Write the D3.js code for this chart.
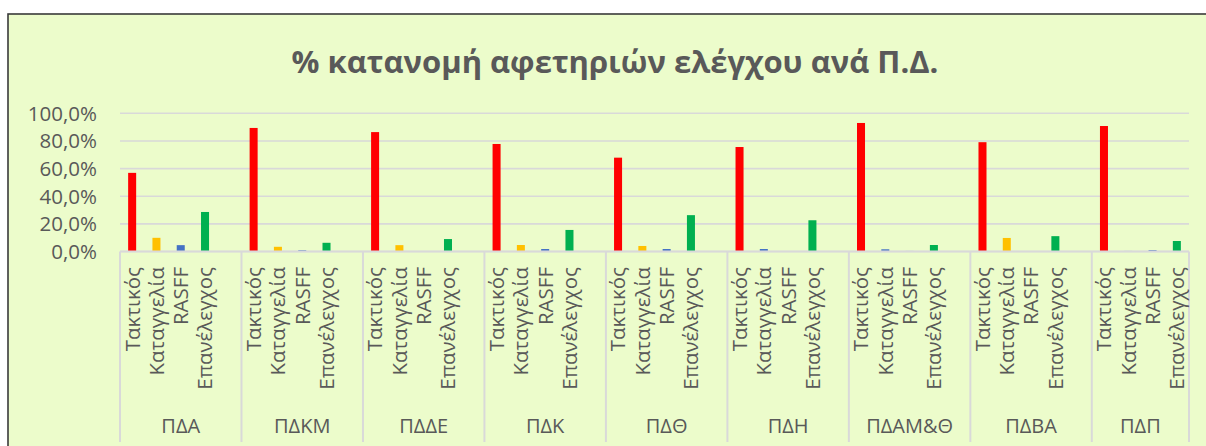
<!DOCTYPE html>
<html>
<head>
<meta charset="utf-8">
<script src="https://cdn.jsdelivr.net/npm/d3@7"></script>
<style>
  html, body { margin: 0; padding: 0; background: #ffffff; }
  svg { display: block; }
  text { font-family: "Open Sans", "Noto Sans", sans-serif; fill: #595959; }
</style>
</head>
<body>
<svg id="chart" width="1206" height="446"></svg>
<script>
// ---- data ----
const groups = ["ΠΔΑ", "ΠΔΚΜ", "ΠΔΔΕ", "ΠΔΚ", "ΠΔΘ", "ΠΔΗ", "ΠΔΑΜ&Θ", "ΠΔΒΑ", "ΠΔΠ"];
const categories = ["Τακτικός", "Καταγγελία", "RASFF", "Επανέλεγχος"];
const taktikos    = [56.9, 89.4, 86.4, 77.8, 67.9, 75.6, 93.0, 79.1, 90.8];
const kataggelia  = [9.9,  3.4,  4.6,  4.7,  4.0,  1.8,  1.6,  9.8,  0.4];
const rasff       = [4.6,  0.9,  0.0,  1.8,  1.8,  0.0,  0.4,  0.0,  1.0];
const epanelegxos = [28.6, 6.3,  9.0,  15.6, 26.3, 22.6, 4.7,  11.1, 7.6];
const yTicks = [0, 20, 40, 60, 80, 100];
const yTickLabels = ["0,0%", "20,0%", "40,0%", "60,0%", "80,0%", "100,0%"];

const seriesByCat = [taktikos, kataggelia, rasff, epanelegxos];

// ---- layout / style ----
const W = 1206, H = 446;
const plot = { left: 120, right: 1189, top: 113.3, bottom: 251.5 };
const catColor = d3.scaleOrdinal(categories, ["#FF0000", "#FFC000", "#4472C4", "#00B050"]);
// points the original chart formatted individually
const colorOverride = { "ΠΔΗ|Καταγγελία": "#4472C4", "ΠΔΑΜ&Θ|Καταγγελία": "#4472C4", "ΠΔΠ|Καταγγελία": "#4472C4" };

const svg = d3.select("#chart");

// chart area
svg.append("rect").attr("x", 8).attr("y", 14).attr("width", W + 10).attr("height", H + 10)
  .attr("fill", "#ECFCCB").attr("stroke", "#3a3a3a").attr("stroke-width", 1.6);

// title
svg.append("text").attr("x", 615).attr("y", 73).attr("text-anchor", "middle")
  .style("font-size", "31px").style("font-weight", "bold")
  .text("% κατανομή αφετηριών ελέγχου ανά Π.Δ.");

// slots: 4 categories per group plus a blank slot between groups
const slots = [];
groups.forEach((g, gi) => {
  categories.forEach(c => slots.push(g + "|" + c));
  if (gi < groups.length - 1) slots.push(g + "|_blank");
});

const x = d3.scaleBand().domain(slots).range([plot.left, plot.right])
  .paddingInner(0.67).paddingOuter(0.335);
const y = d3.scaleLinear().domain([0, 100]).range([plot.bottom, plot.top]);
const step = x.step();
const half = (step - x.bandwidth()) / 2;

// gridlines
svg.append("g").selectAll("line").data(yTicks).join("line")
  .attr("x1", plot.left).attr("x2", plot.right)
  .attr("y1", d => y(d)).attr("y2", d => y(d))
  .attr("stroke", "#D9D9D9").attr("stroke-width", 1.6);

// y tick labels
svg.append("g").selectAll("text").data(yTicks).join("text")
  .attr("x", 97).attr("y", d => y(d)).attr("dy", "0.36em").attr("text-anchor", "end")
  .style("font-size", "20.5px")
  .text((d, i) => yTickLabels[i]);

// bars
const points = [];
groups.forEach((g, gi) => categories.forEach((c, ci) => {
  points.push({ g, c, key: g + "|" + c, v: seriesByCat[ci][gi] });
}));
svg.append("g").selectAll("rect").data(points.filter(p => p.v > 0)).join("rect")
  .attr("x", d => x(d.key)).attr("width", x.bandwidth())
  .attr("y", d => y(d.v)).attr("height", d => y(0) - y(d.v))
  .attr("fill", d => colorOverride[d.key] || catColor(d.c));

// axis line
svg.append("line").attr("x1", plot.left).attr("x2", plot.right)
  .attr("y1", y(0)).attr("y2", y(0)).attr("stroke", "#D9D9D9").attr("stroke-width", 2);

// group separators
const bounds = groups.map(g => x(g + "|" + categories[0]) - half);
bounds.push(plot.right);
svg.append("g").selectAll("line").data(bounds).join("line")
  .attr("x1", d => d).attr("x2", d => d).attr("y1", y(0)).attr("y2", 442)
  .attr("stroke", "#D9D9D9").attr("stroke-width", 2);

// category labels (rotated)
svg.append("g").selectAll("text").data(points).join("text")
  .attr("transform", d => `translate(${x(d.key) + x.bandwidth() / 2},267) rotate(-90)`)
  .attr("text-anchor", "end").attr("dy", "0.36em")
  .style("font-size", "20.5px")
  .text(d => d.c);

// group labels
svg.append("g").selectAll("text").data(groups).join("text")
  .attr("x", (g, i) => (bounds[i] + bounds[i + 1]) / 2).attr("y", 433)
  .attr("text-anchor", "middle").style("font-size", "20px")
  .text(d => d);
</script>
</body>
</html>
